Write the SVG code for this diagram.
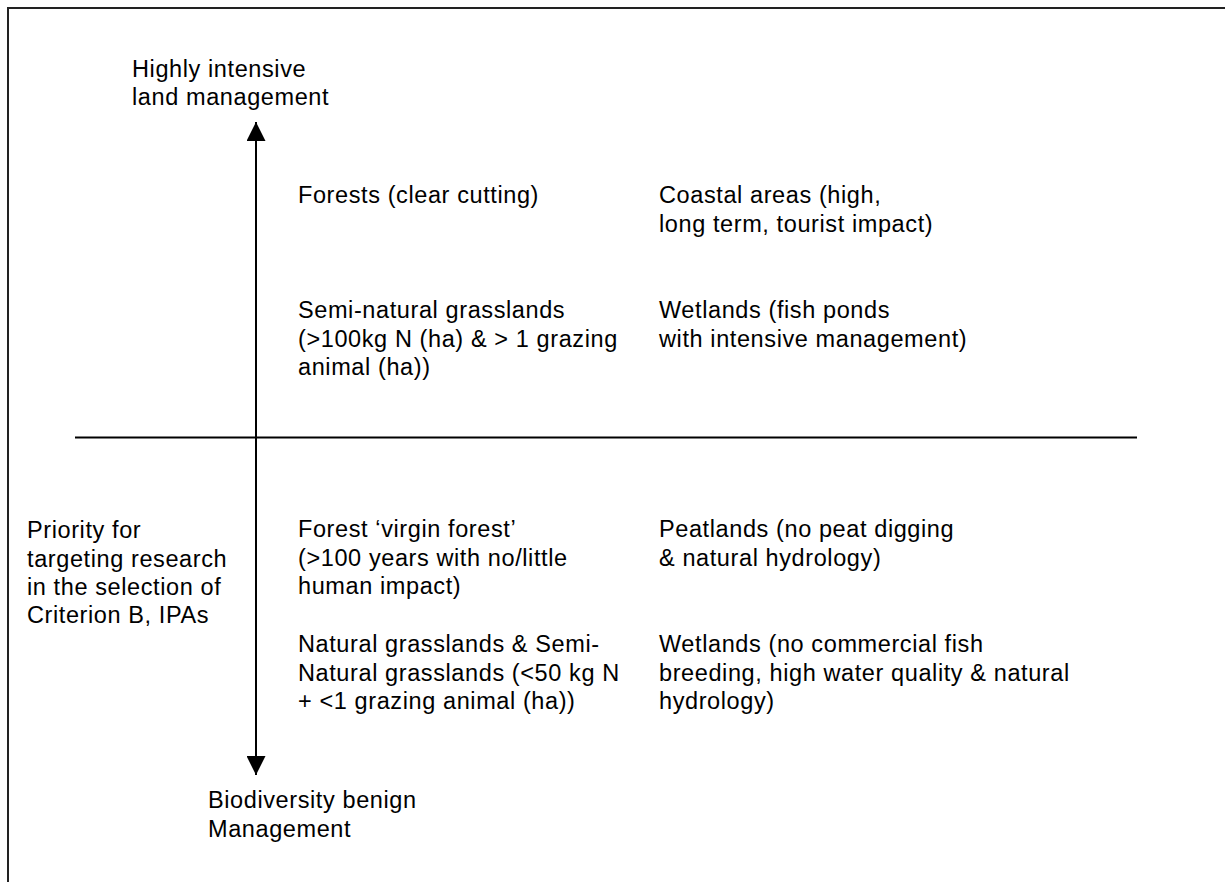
<svg xmlns="http://www.w3.org/2000/svg" width="1225" height="882" viewBox="0 0 1225 882">
<style>
text{font-family:"Liberation Sans",Arial,sans-serif;font-size:23.5px;letter-spacing:0.6px;fill:#000}
.ln{stroke:#000;stroke-width:2;fill:none}
</style>
<defs>
<marker id="ah" viewBox="0 0 10 10" refX="10" refY="5" markerWidth="19" markerHeight="19" markerUnits="userSpaceOnUse" orient="auto">
<path d="M0,0 L10,5 L0,10 z" fill="#000"/>
</marker>
</defs>
<rect width="1225" height="882" fill="#fff"/>
<path d="M8,882 V8 H1225" fill="none" stroke="#222" stroke-width="2"/>
<g id="connectors">
<line class="ln" x1="75" y1="437.5" x2="1137" y2="437.5"/>
<line class="ln" x1="256" y1="437.5" x2="256" y2="122" marker-end="url(#ah)"/>
<line class="ln" x1="256" y1="437.5" x2="256" y2="775" marker-end="url(#ah)"/>
</g>
<g id="top-label"><text x="132" y="77">Highly intensive</text><text x="132" y="105">land management</text></g>
<g id="bottom-label"><text x="208" y="808">Biodiversity benign</text><text x="208" y="837">Management</text></g>
<g id="priority"><text x="27" y="538">Priority for</text><text x="27" y="567">targeting research</text><text x="27" y="595">in the selection of</text><text x="27" y="623">Criterion B, IPAs</text></g>
<g id="forests"><text x="298" y="203">Forests (clear cutting)</text></g>
<g id="coastal"><text x="659" y="203">Coastal areas (high,</text><text x="659" y="232">long term, tourist impact)</text></g>
<g id="semi-natural"><text x="298" y="318">Semi-natural grasslands</text><text x="298" y="347">(&gt;100kg N (ha) &amp; &gt; 1 grazing</text><text x="298" y="375">animal (ha))</text></g>
<g id="wetlands-fish"><text x="659" y="318">Wetlands (fish ponds</text><text x="659" y="347">with intensive management)</text></g>
<g id="virgin-forest"><text x="298" y="537">Forest ‘virgin forest’</text><text x="298" y="566">(&gt;100 years with no/little</text><text x="298" y="594">human impact)</text></g>
<g id="peatlands"><text x="659" y="537">Peatlands (no peat digging</text><text x="659" y="566">&amp; natural hydrology)</text></g>
<g id="natural-grasslands"><text x="298" y="652">Natural grasslands &amp; Semi-</text><text x="298" y="681">Natural grasslands (&lt;50 kg N</text><text x="298" y="709">+ &lt;1 grazing animal (ha))</text></g>
<g id="wetlands-natural"><text x="659" y="652">Wetlands (no commercial fish</text><text x="659" y="681">breeding, high water quality &amp; natural</text><text x="659" y="709">hydrology)</text></g>
</svg>
